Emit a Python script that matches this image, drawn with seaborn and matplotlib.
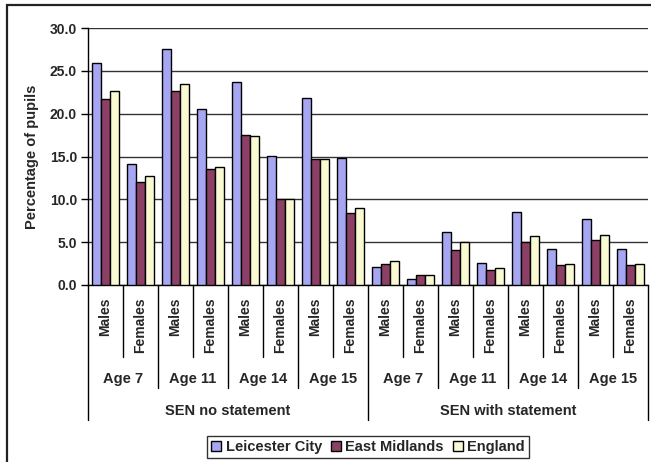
import matplotlib
matplotlib.use("Agg")
import matplotlib.pyplot as plt
import matplotlib.transforms as mtransforms
from matplotlib.patches import Rectangle
import pandas as pd
import seaborn as sns

sns.set_theme(style="white")
plt.rcParams["font.family"] = ["Liberation Sans", "DejaVu Sans"]
plt.rcParams["font.weight"] = "bold"

# data
sen_groups = ["SEN no statement", "SEN with statement"]
ages = ["Age 7", "Age 11", "Age 14", "Age 15"]
genders = ["Males", "Females"]
areas = ["Leicester City", "East Midlands", "England"]

leicester = [25.9, 14.1, 27.6, 20.6, 23.7, 15.1, 21.8, 14.8,
             2.1, 0.7, 6.2, 2.6, 8.5, 4.2, 7.7, 4.2]
east_midlands = [21.7, 12.0, 22.7, 13.5, 17.5, 10.0, 14.7, 8.4,
                 2.4, 1.2, 4.1, 1.8, 5.0, 2.3, 5.2, 2.3]
england = [22.7, 12.7, 23.5, 13.8, 17.4, 10.0, 14.7, 9.0,
           2.8, 1.2, 5.0, 2.0, 5.7, 2.4, 5.8, 2.5]

colors = ["#9999FF", "#993366", "#FFFFCC"]

W, H = 651, 462


def fy(px):
    # pixel row from top -> figure fraction
    return 1 - px / H


keys = [(s, a, g) for s in sen_groups for a in ages for g in genders]
order = ["|".join(k) for k in keys]
rows = []
for area, vals in zip(areas, [leicester, east_midlands, england]):
    for k, v in zip(order, vals):
        rows.append({"cat": k, "area": area, "value": v})
df = pd.DataFrame(rows)

fig = plt.figure(figsize=(W / 100, H / 100), dpi=100)
ax = fig.add_axes([88 / W, fy(285), (648 - 88) / W, (285 - 28) / H])

sns.barplot(data=df, x="cat", y="value", hue="area", order=order,
            hue_order=areas, palette=colors, edgecolor="black",
            linewidth=1, width=0.77, ax=ax, zorder=3)

ax.set_ylim(0, 30)
ax.set_xlim(-0.5, len(order) - 0.5)
ax.set_yticks(range(0, 31, 5))
ax.set_yticklabels([f"{t:.1f}" for t in range(0, 31, 5)],
                   fontsize=10, fontweight="bold")
ax.tick_params(axis="y", direction="out", length=5, width=1,
               color="black", pad=3, left=True)
ax.set_xticks([])
ax.set_xlabel("")
ax.set_ylabel("Percentage of pupils", fontsize=10.5, fontweight="bold",
              labelpad=8)
ax.yaxis.grid(True, color="#333333", linewidth=1)
ax.set_axisbelow(True)
for side in ["top", "right"]:
    ax.spines[side].set_visible(False)
for side in ["left", "bottom"]:
    ax.spines[side].set_color("black")
    ax.spines[side].set_linewidth(1)

# multi-level category axis
tr = mtransforms.blended_transform_factory(ax.transData, fig.transFigure)
for i in range(len(order) + 1):
    x = i - 0.5
    if i % 8 == 0:
        end = 420
    elif i % 2 == 0:
        end = 388
    else:
        end = 357
    ax.plot([x, x], [fy(285), fy(end)], transform=tr, color="black",
            lw=1, clip_on=False)

for i, (s, a, g) in enumerate(keys):
    ax.text(i, fy(297), g, transform=tr, rotation=90, ha="center",
            va="top", fontsize=10, fontweight="bold")
for j in range(len(sen_groups) * len(ages)):
    ax.text(2 * j + 0.5, fy(379), ages[j % len(ages)], transform=tr,
            ha="center", va="center", fontsize=10.5, fontweight="bold")
for j, s in enumerate(sen_groups):
    ax.text(8 * j + 3.5, fy(411), s, transform=tr, ha="center",
            va="center", fontsize=10.5, fontweight="bold")

handles, labels = ax.get_legend_handles_labels()
ax.legend(handles, labels, ncol=3, loc="center",
          bbox_to_anchor=(368 / W, fy(447)), bbox_transform=fig.transFigure,
          frameon=True, fancybox=False, edgecolor="black",
          prop={"size": 10.5, "weight": "bold"}, handlelength=0.7,
          handleheight=0.7, handletextpad=0.3, columnspacing=0.6,
          borderpad=0.3, borderaxespad=0)
ax.get_legend().get_frame().set_linewidth(1)

# outer chart frame (cropped at right and bottom)
fig.patches.append(Rectangle((7 / W, -0.1), 1.2, fy(5) + 0.1,
                             transform=fig.transFigure, fill=False,
                             edgecolor="#222222", linewidth=1.6))

fig.savefig("out.png", dpi=100)
